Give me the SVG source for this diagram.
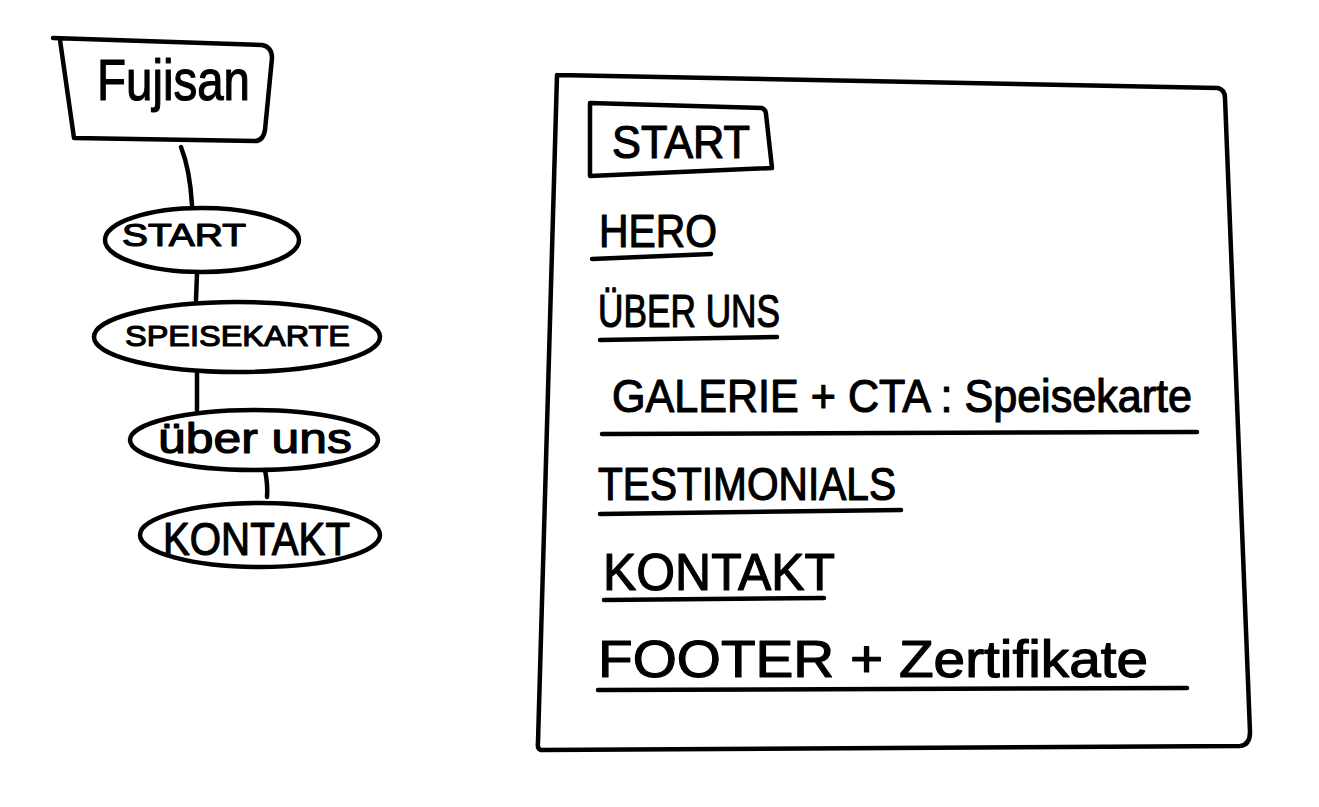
<svg xmlns="http://www.w3.org/2000/svg" width="1319" height="807" viewBox="0 0 1319 807">
<style>
.s{fill:none;stroke:#000;stroke-width:4.5;stroke-linecap:round;stroke-linejoin:round}
.t{font-family:"Liberation Sans","DejaVu Sans",sans-serif;fill:#000;stroke:#000;stroke-width:1.2;stroke-linejoin:round}
</style>
<rect width="1319" height="807" fill="#fff"/>
<g id="connectors">
<path class="s" d="M181,147 Q190,170 192,205"/>
<path class="s" d="M197,273 L196,300"/>
<path class="s" d="M197,373 L197,410"/>
<path class="s" d="M265,470 Q268,485 267,497"/>
</g>
<g id="fujisan">
<path class="s" d="M53,38 L262,45 Q272,47 272,58 L265,130 Q263,141 255,141 L74,138 L60,40"/>
<text class="t" x="97" y="100" font-size="58" textLength="153" lengthAdjust="spacingAndGlyphs">Fujisan</text>
</g>
<g id="nav-start">
<ellipse class="s" cx="202" cy="240" rx="97" ry="32"/>
<text class="t" x="122" y="246" font-size="31" textLength="124" lengthAdjust="spacingAndGlyphs">START</text>
</g>
<g id="nav-speisekarte">
<ellipse class="s" cx="237" cy="337" rx="143" ry="35"/>
<text class="t" x="125" y="346" font-size="30" textLength="225" lengthAdjust="spacingAndGlyphs">SPEISEKARTE</text>
</g>
<g id="nav-ueber-uns">
<ellipse class="s" cx="254" cy="440" rx="124" ry="30"/>
<text class="t" x="158" y="453" font-size="42" textLength="194" lengthAdjust="spacingAndGlyphs">über uns</text>
</g>
<g id="nav-kontakt">
<ellipse class="s" cx="260" cy="535" rx="120" ry="32"/>
<text class="t" x="163" y="555" font-size="47" textLength="187" lengthAdjust="spacingAndGlyphs">KONTAKT</text>
</g>
<g id="page">
<path class="s" d="M557,75 L1218,88 Q1225,90 1225,98 L1250,732 Q1250,745 1240,746 L541,750 Q537,749 538,742 L557,75"/>
</g>
<g id="page-start">
<path class="s" d="M590,103 L762,108 Q766,110 766,114 L772,168 L590,176 Z"/>
<text class="t" x="612" y="158" font-size="46" textLength="138" lengthAdjust="spacingAndGlyphs">START</text>
</g>
<g id="page-hero">
<text class="t" x="599" y="247" font-size="47" textLength="118" lengthAdjust="spacingAndGlyphs">HERO</text>
<path class="s" d="M592,259 L711,254"/>
</g>
<g id="page-ueber-uns">
<text class="t" x="598" y="327" font-size="47" textLength="182" lengthAdjust="spacingAndGlyphs">ÜBER UNS</text>
<path class="s" d="M600,340 L777,337"/>
</g>
<g id="page-galerie">
<text class="t" x="612" y="412" font-size="46" textLength="580" lengthAdjust="spacingAndGlyphs">GALERIE + CTA : Speisekarte</text>
<path class="s" d="M602,434 L1197,432"/>
</g>
<g id="page-testimonials">
<text class="t" x="598" y="500" font-size="46" textLength="298" lengthAdjust="spacingAndGlyphs">TESTIMONIALS</text>
<path class="s" d="M600,514 L901,510"/>
</g>
<g id="page-kontakt">
<text class="t" x="603" y="590" font-size="52" textLength="232" lengthAdjust="spacingAndGlyphs">KONTAKT</text>
<path class="s" d="M604,600 L824,598"/>
</g>
<g id="page-footer">
<text class="t" x="598" y="677" font-size="52" textLength="550" lengthAdjust="spacingAndGlyphs">FOOTER + Zertifikate</text>
<path class="s" d="M598,690 L1187,688"/>
</g>
</svg>
